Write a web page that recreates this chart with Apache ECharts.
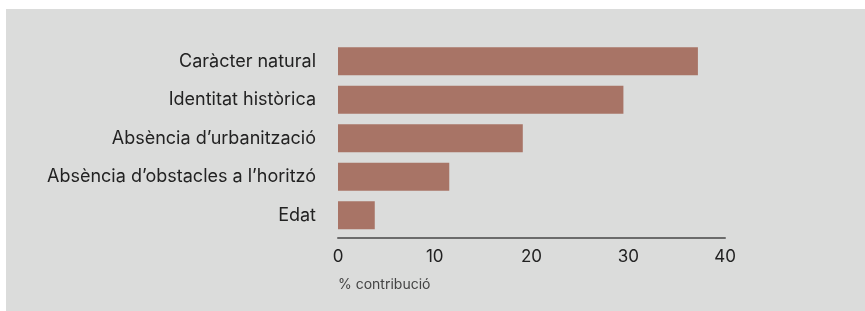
<!DOCTYPE html>
<html>
<head>
<meta charset="utf-8">
<script src="https://cdn.jsdelivr.net/npm/echarts@6/dist/echarts.min.js"></script>
<style>
  html, body { margin: 0; padding: 0; background: #ffffff; }
  #chart { position: absolute; left: 6px; top: 9px; width: 859px; height: 302px; background: #dbdcdb; }
</style>
</head>
<body>
<div id="chart"></div>
<script>
// categories, top to bottom
const categories = [
  "Caràcter natural",
  "Identitat històrica",
  "Absència d’urbanització",
  "Absència d’obstacles a l’horitzó",
  "Edat"
];
// % contribució
const values = [37.2, 29.5, 19.1, 11.5, 3.8];
const xTicks = [0, 10, 20, 30, 40];

const myChart = echarts.init(document.getElementById("chart"));

const option = {
  animation: false,
  textStyle: { fontFamily: "Inter" },
  grid: { left: 332, top: 33, width: 387, height: 192.5, containLabel: false },
  xAxis: {
    type: "value",
    min: xTicks[0],
    max: xTicks[xTicks.length - 1],
    interval: 10,
    offset: 3.5,
    name: "% contribució",
    nameLocation: "start",
    nameGap: 0,
    nameTextStyle: {
      color: "#444",
      fontSize: 14,
      align: "left",
      verticalAlign: "top",
      padding: [40, 0, 0, 0]
    },
    axisLine: { show: true, lineStyle: { color: "#6b6b6b", width: 2 } },
    axisTick: { show: false },
    splitLine: { show: false },
    axisLabel: { color: "#222", fontSize: 17, margin: 10 }
  },
  yAxis: {
    type: "category",
    inverse: true,
    data: categories,
    axisLine: { show: false },
    axisTick: { show: false },
    axisLabel: { color: "#222", fontSize: 18, margin: 22 }
  },
  series: [
    {
      type: "bar",
      data: values,
      barWidth: 28,
      itemStyle: { color: "#a87466" }
    }
  ]
};

myChart.setOption(option);
</script>
</body>
</html>
